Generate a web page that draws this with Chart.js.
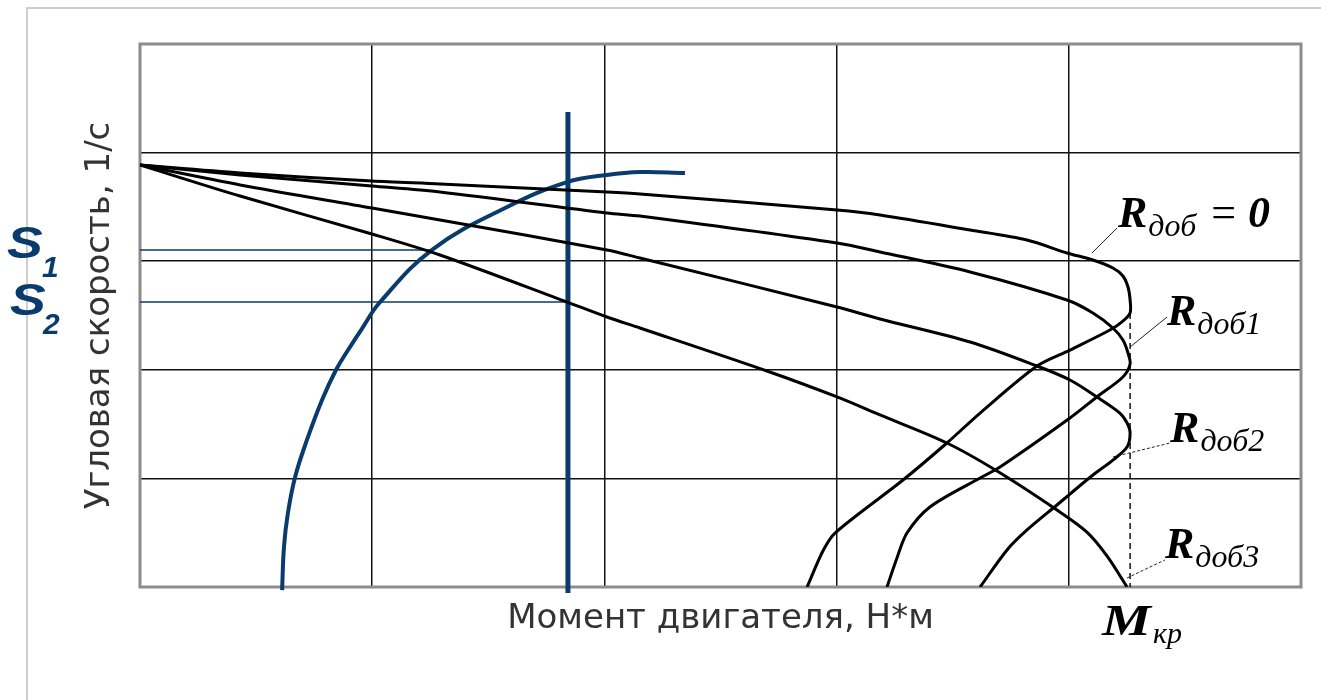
<!DOCTYPE html>
<html><head><meta charset="utf-8">
<script src="https://cdn.jsdelivr.net/npm/chart.js@4.4.1/dist/chart.umd.min.js"></script>
<style>
html,body{margin:0;padding:0;background:#fff;}
#wrap{position:relative;width:1321px;height:700px;overflow:hidden;}
#frame{position:absolute;left:26px;top:7px;width:1400px;height:800px;border-left:2px solid #cfcfcf;border-top:2px solid #cfcfcf;}
canvas{position:absolute;left:0;top:0;}
</style></head><body>
<div id="wrap"><div id="frame"></div><canvas id="c" width="1321" height="700"></canvas></div>
<script>
// axis ranges (grid cells)
const xTicks = [0, 1, 2, 3, 4, 5];
const yTicks = [0, 1, 2, 3, 4, 5];
const xTitle = 'Момент двигателя, Н*м';
const yTitle = 'Угловая скорость, 1/с';

// mechanical characteristics  [moment, speed]
const curveR0 = [[0,3.886],[0.431,3.812],[0.999,3.738],[1.292,3.711],[2.011,3.637],[2.153,3.619],[3.002,3.471],[3.187,3.425],[3.575,3.287],[3.820,3.195],[3.992,3.076],[4.104,3.011],[4.190,2.937],[4.233,2.864],[4.255,2.762],[4.264,2.643],[4.264,2.523],[4.233,2.449],[4.177,2.366],[4.005,2.182],[3.863,2.035],[3.618,1.602],[3.475,1.326],[3.286,0.985],[2.993,0.497],[2.941,0.331],[2.873,0]];
const curveR1 = [[0,3.886],[0.431,3.794],[0.999,3.692],[1.292,3.637],[2.011,3.444],[2.153,3.416],[3.002,3.168],[3.187,3.085],[3.575,2.901],[3.992,2.643],[4.104,2.523],[4.190,2.385],[4.233,2.274],[4.255,2.155],[4.264,2.053],[4.233,1.934],[4.121,1.750],[4.005,1.556],[3.704,1.105],[3.618,1.004],[3.402,0.737],[3.303,0.497],[3.260,0.267],[3.217,0]];
const curveR2 = [[0,3.886],[0.431,3.702],[0.999,3.490],[1.292,3.379],[2.011,3.103],[2.153,3.029],[3.002,2.578],[3.187,2.468],[3.575,2.256],[3.863,2.035],[4.005,1.906],[4.121,1.750],[4.220,1.602],[4.251,1.510],[4.264,1.418],[4.251,1.289],[4.190,1.169],[4.104,1.031],[4.005,0.856],[3.949,0.755],[3.820,0.525],[3.734,0.341],[3.618,0]];
const curveR3 = [[0,3.886],[0.431,3.600],[0.999,3.250],[1.292,3.057],[1.839,2.624],[2.011,2.486],[2.153,2.385],[2.700,1.989],[3.002,1.750],[3.187,1.584],[3.475,1.326],[3.691,1.068],[3.949,0.709],[4.078,0.506],[4.165,0.285],[4.251,0]];

// load characteristic (blue) and helper lines
const loadArc = [[0.612,-0.028],[0.620,0.368],[0.637,0.681],[0.668,1.013],[0.719,1.354],[0.784,1.722],[0.844,1.998],[0.896,2.182],[0.952,2.366],[1.034,2.624],[1.262,3.112],[1.581,3.499],[1.839,3.729],[2.011,3.794],[2.153,3.821],[2.347,3.812]];
const loadLine = [[1.843,4.374],[1.843,-0.055]];
const s1Line = [[0,3.103],[1.249,3.103]];
const s2Line = [[0,2.624],[1.843,2.624]];
const mkrLine = [[4.264,2.523],[4.264,0]];

// leader lines of the labels
const leaderR0 = [[4.100,3.076],[4.208,3.306]];
const leaderR1 = [[4.264,2.210],[4.423,2.486]];
const leaderR2 = [[4.190,1.197],[4.436,1.326]];
const leaderR3 = [[4.251,0.083],[4.414,0.249]];

// label texts and anchors (data units)
const rLabelText = ['R', 'R', 'R', 'R'];
const rLabelSub = ['доб', 'доб1', 'доб2', 'доб3'];
const rLabelAnchor = [[4.212,3.315],[4.423,2.413],[4.436,1.335],[4.414,0.267]];
const mLabel = ['M', 'кр'];
const mLabelAnchor = [4.143,-0.442];
const sLabels = [['S','1'],['S','2']];

const NAVY = '#0a3b6d';
const pts = a => a.map(([x,y]) => ({x, y}));
const black = d => ({data: pts(d), borderColor: '#000', borderWidth: 3, tension: 0.3, showLine: true, pointRadius: 0, fill: false});
const thin = (d, color, w, dash) => ({data: pts(d), borderColor: color, borderWidth: w, borderDash: dash || [], showLine: true, pointRadius: 0, tension: 0});

const datasets = [
  black(curveR0), black(curveR1), black(curveR2), black(curveR3),
  thin(mkrLine, '#111', 1.5, [6,4]),
  thin(leaderR0, '#222', 1), thin(leaderR1, '#222', 1),
  thin(leaderR2, '#222', 1, [3,2]), thin(leaderR3, '#222', 1, [3,2]),
  thin(s1Line, NAVY, 1.5), thin(s2Line, NAVY, 1.5),
  {data: pts(loadArc), borderColor: NAVY, borderWidth: 4, showLine: true, pointRadius: 0, tension: 0.4, clip: false},
  Object.assign(thin(loadLine, NAVY, 5), {clip: false})
];

function stretchText(ctx, txt, x, y, sx) {
  ctx.save();
  ctx.translate(x, y);
  ctx.scale(sx, 1);
  ctx.fillText(txt, 0, 0);
  const w = ctx.measureText(txt).width * sx;
  ctx.restore();
  return w;
}

const decor = {
  id: 'decor',
  beforeDatasetsDraw(chart) {
    const {ctx, chartArea: a} = chart;
    ctx.save();
    ctx.strokeStyle = '#8c8c8c';
    ctx.lineWidth = 3;
    ctx.strokeRect(a.left, a.top, a.right - a.left, a.bottom - a.top);
    ctx.restore();
  },
  afterDraw(chart) {
    const {ctx} = chart;
    const xs = chart.scales.x, ys = chart.scales.y;
    ctx.save();
    ctx.fillStyle = '#000';
    ctx.textBaseline = 'alphabetic';
    ctx.textAlign = 'left';
    rLabelAnchor.forEach(([dx, dy], i) => {
      const px = xs.getPixelForValue(dx), py = ys.getPixelForValue(dy);
      ctx.font = 'italic bold 44px "Liberation Serif"';
      ctx.fillText(rLabelText[i], px, py);
      const w = ctx.measureText(rLabelText[i]).width;
      ctx.font = 'italic 32px "Liberation Serif"';
      ctx.fillText(rLabelSub[i], px + w + 1, py + 9);
      if (i === 0) {
        const ws = ctx.measureText(rLabelSub[i]).width;
        let cx = px + w + 1 + ws + 15;
        ctx.font = '44px "Liberation Serif"';
        ctx.fillText('=', cx, py);
        cx += ctx.measureText('=').width + 12;
        ctx.font = 'italic bold 44px "Liberation Serif"';
        ctx.fillText('0', cx, py);
      }
    });
    {
      const px = xs.getPixelForValue(mLabelAnchor[0]), py = ys.getPixelForValue(mLabelAnchor[1]);
      ctx.font = 'italic bold 44px "Liberation Serif"';
      const w = stretchText(ctx, mLabel[0], px, py, 1.25);
      ctx.font = 'italic 30px "Liberation Serif"';
      ctx.fillText(mLabel[1], px + w + 2, py + 8);
    }
    // S1 / S2 labels next to their level lines
    ctx.fillStyle = NAVY;
    const sLevels = [s1Line[0][1], s2Line[0][1]];
    const sDy = [8, 13];
    sLabels.forEach(([main, sub], i) => {
      const py = ys.getPixelForValue(sLevels[i]) + sDy[i];
      const x0 = 7 + i * 3;
      ctx.font = 'italic bold 44px "Liberation Sans"';
      stretchText(ctx, main, x0, py, 1.22);
      ctx.font = 'italic bold 30px "Liberation Sans"';
      ctx.fillText(sub, 42 + i, py + 19);
    });
    ctx.restore();
  }
};

new Chart(document.getElementById('c'), {
  type: 'scatter',
  data: {datasets},
  options: {
    responsive: false,
    animation: false,
    devicePixelRatio: 1,
    layout: {padding: {left: 0, top: 44, right: 20, bottom: 0}},
    plugins: {legend: {display: false}, tooltip: {enabled: false}},
    scales: {
      x: {
        type: 'linear', min: xTicks[0], max: xTicks[xTicks.length - 1],
        afterBuildTicks: s => { s.ticks = xTicks.map(v => ({value: v})); },
        ticks: {display: false},
        grid: {color: '#111', lineWidth: 1.5, drawTicks: false},
        border: {display: false},
        title: {display: true, text: xTitle, color: '#333', font: {family: '"DejaVu Sans"', size: 34, weight: 'normal'}, padding: {top: 0, bottom: 60}},
        afterFit: s => { s.height = 113; }
      },
      y: {
        type: 'linear', min: yTicks[0], max: yTicks[yTicks.length - 1],
        afterBuildTicks: s => { s.ticks = yTicks.map(v => ({value: v})); },
        ticks: {display: false},
        grid: {color: '#111', lineWidth: 1.5, drawTicks: false},
        border: {display: false},
        title: {display: true, text: yTitle, color: '#333', font: {family: '"DejaVu Sans"', size: 34, weight: 'normal'}, padding: {top: 80, bottom: 0}},
        afterFit: s => { s.width = 140; }
      }
    }
  },
  plugins: [decor]
});
</script>
</body></html>
